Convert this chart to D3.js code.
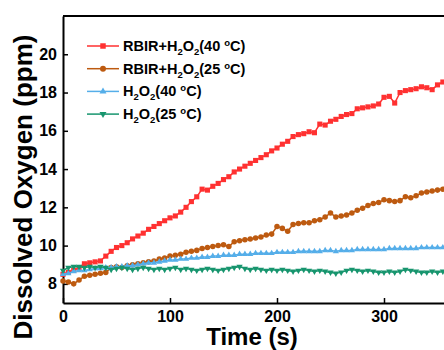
<!DOCTYPE html>
<html>
<head>
<meta charset="utf-8">
<script src="https://cdn.jsdelivr.net/npm/d3@7"></script>
<style>
  body { margin: 0; background: #fff; }
  svg { display: block; font-family: "Liberation Sans", Arial, sans-serif; }
</style>
</head>
<body>
<svg id="chart" width="444" height="350"></svg>
<script>
// time points (s), sampled every 5 s
const times = d3.range(0, 365, 5);

const red40 = [8.5, 8.6, 8.7, 8.85, 9.05, 9.1, 9.15, 9.2, 9.45, 9.7, 9.9, 10.0, 10.15, 10.35, 10.5, 10.65,
  10.85, 11.0, 11.15, 11.3, 11.45, 11.55, 11.75, 12.0, 12.3, 12.55, 12.95, 12.9, 13.1, 13.25, 13.45, 13.6,
  13.85, 14.0, 14.15, 14.3, 14.45, 14.6, 14.75, 14.95, 15.1, 15.3, 15.45, 15.7, 15.8, 15.85, 15.95, 15.9,
  16.35, 16.3, 16.5, 16.6, 16.75, 16.85, 16.9, 17.15, 17.2, 17.25, 17.3, 17.4, 17.75, 17.8, 17.45, 18.0,
  18.1, 18.15, 18.2, 18.3, 18.25, 18.15, 18.4, 18.55, 18.7];

const brown25 = [8.15, 8.1, 8.0, 8.2, 8.4, 8.45, 8.5, 8.55, 8.6, 8.85, 8.9, 8.85, 8.95, 9.0, 9.05, 9.1,
  9.15, 9.2, 9.3, 9.35, 9.45, 9.5, 9.55, 9.65, 9.7, 9.75, 9.85, 9.9, 9.95, 10.0, 10.05, 9.95,
  10.2, 10.25, 10.3, 10.35, 10.4, 10.45, 10.55, 10.6, 11.0, 10.9, 10.75, 11.1, 11.15, 11.2, 11.2, 11.3,
  11.35, 11.5, 11.7, 11.5, 11.55, 11.6, 11.7, 11.85, 11.95, 12.1, 12.2, 12.25, 12.4, 12.35, 12.3, 12.35,
  12.55, 12.5, 12.6, 12.75, 12.8, 12.85, 12.9, 12.95, 13.0];

const blue40 = [8.5, 8.55, 8.65, 8.7, 8.7, 8.75, 8.8, 8.8, 8.85, 8.85, 8.9, 8.9, 8.95, 8.95, 9.0, 9.05,
  9.1, 9.1, 9.15, 9.2, 9.25, 9.25, 9.3, 9.3, 9.35, 9.35, 9.4, 9.4, 9.45, 9.45, 9.5, 9.5,
  9.5, 9.55, 9.55, 9.55, 9.6, 9.6, 9.6, 9.6, 9.65, 9.65, 9.65, 9.65, 9.7, 9.7, 9.7, 9.7,
  9.7, 9.75, 9.75, 9.7, 9.75, 9.75, 9.75, 9.8, 9.8, 9.8, 9.8, 9.8, 9.8, 9.85, 9.85, 9.85,
  9.85, 9.85, 9.85, 9.9, 9.9, 9.9, 9.9, 9.9, 9.95];

const green25 = [8.7, 8.85, 8.9, 8.9, 8.85, 8.9, 8.85, 8.9, 8.85, 8.75, 8.8, 8.85, 8.8, 8.75, 8.8, 8.85,
  8.8, 8.75, 8.8, 8.75, 8.8, 8.85, 8.75, 8.8, 8.75, 8.7, 8.75, 8.8, 8.75, 8.7, 8.75, 8.8,
  8.85, 8.9, 8.8, 8.75, 8.8, 8.75, 8.7, 8.75, 8.7, 8.75, 8.7, 8.65, 8.7, 8.75, 8.7, 8.65,
  8.7, 8.65, 8.6, 8.55, 8.6, 8.7, 8.75, 8.7, 8.65, 8.7, 8.65, 8.6, 8.6, 8.65, 8.6, 8.65,
  8.75, 8.7, 8.65, 8.6, 8.6, 8.65, 8.6, 8.65, 8.7];

const xTicks = [0, 100, 200, 300];
const yTicks = [8, 10, 12, 14, 16, 18, 20];

const series = [
  { name: 'RBIR+H', temp: '40', values: red40, color: '#ff3131', symbol: d3.symbolSquare, size: 26, rot: 0 },
  { name: 'RBIR+H', temp: '25', values: brown25, color: '#bd5a10', symbol: d3.symbolCircle, size: 24, rot: 0 },
  { name: 'H', temp: '40', values: blue40, color: '#55aee9', symbol: d3.symbolTriangle, size: 17, rot: 0 },
  { name: 'H', temp: '25', values: green25, color: '#17956e', symbol: d3.symbolTriangle, size: 17, rot: 180 }
];

const svg = d3.select('#chart');

const x = d3.scaleLinear().domain([0, 400]).range([63, 491]);
const y = d3.scaleLinear().domain([7, 22]).range([303, 16]);

// top frame line (right side runs off the picture)
svg.append('line')
  .attr('x1', x(0)).attr('x2', x(400))
  .attr('y1', y(22)).attr('y2', y(22))
  .attr('stroke', '#000')
  .attr('stroke-width', 2);

// axes
const xAxis = svg.append('g')
  .attr('transform', `translate(0,${y(7)})`)
  .call(d3.axisBottom(x).tickValues(xTicks).tickSizeInner(-5).tickSizeOuter(0).tickPadding(8));

const yAxis = svg.append('g')
  .attr('transform', `translate(${x(0)},0)`)
  .call(d3.axisLeft(y).tickValues(yTicks).tickSizeInner(-5).tickSizeOuter(0).tickPadding(6));

[xAxis, yAxis].forEach(g => {
  g.select('.domain').attr('stroke-width', 2);
  g.selectAll('.tick line').attr('stroke-width', 1.5);
  g.selectAll('.tick text')
    .attr('font-family', '"Liberation Sans", Arial, sans-serif')
    .attr('font-size', 16)
    .attr('font-weight', 'bold')
    .attr('fill', '#000');
});

// series
const line = d3.line()
  .x((d, i) => x(times[i]))
  .y(d => y(d));

series.forEach(s => {
  const g = svg.append('g');
  g.append('path')
    .datum(s.values)
    .attr('fill', 'none')
    .attr('stroke', s.color)
    .attr('stroke-width', 1.5)
    .attr('d', line);
  g.selectAll('path.m')
    .data(s.values)
    .join('path')
    .attr('class', 'm')
    .attr('d', d3.symbol().type(s.symbol).size(s.size))
    .attr('transform', (d, i) => `translate(${x(times[i])},${y(d)}) rotate(${s.rot})`)
    .attr('fill', s.color);
});

// legend
const legend = svg.append('g');
series.forEach((s, i) => {
  const ly = 46 + i * 22.7;
  legend.append('line')
    .attr('x1', 87).attr('x2', 119)
    .attr('y1', ly).attr('y2', ly)
    .attr('stroke', s.color)
    .attr('stroke-width', 1.5);
  legend.append('path')
    .attr('d', d3.symbol().type(s.symbol).size(s.size + 4))
    .attr('transform', `translate(103,${ly}) rotate(${s.rot})`)
    .attr('fill', s.color);
  const t = legend.append('text')
    .attr('x', 123)
    .attr('y', ly + 5)
    .attr('font-size', 14.5)
    .attr('font-weight', 'bold')
    .attr('fill', '#000');
  t.append('tspan').text(s.name);
  t.append('tspan').attr('font-size', 9.5).attr('dy', 4).text('2');
  t.append('tspan').attr('dy', -4).text('O');
  t.append('tspan').attr('font-size', 9.5).attr('dy', 4).text('2');
  t.append('tspan').attr('dy', -4).text(`(${s.temp} `);
  t.append('tspan').attr('font-size', 9.5).attr('dy', -5).text('o');
  t.append('tspan').attr('dy', 5).text('C)');
});

// axis titles
svg.append('text')
  .attr('x', 252)
  .attr('y', 345)
  .attr('text-anchor', 'middle')
  .attr('font-size', 24)
  .attr('font-weight', 'bold')
  .text('Time (s)');

svg.append('text')
  .attr('transform', 'translate(32,187) rotate(-90)')
  .attr('text-anchor', 'middle')
  .attr('font-size', 26)
  .attr('font-weight', 'bold')
  .text('Dissolved Oxygen (ppm)');
</script>
</body>
</html>
